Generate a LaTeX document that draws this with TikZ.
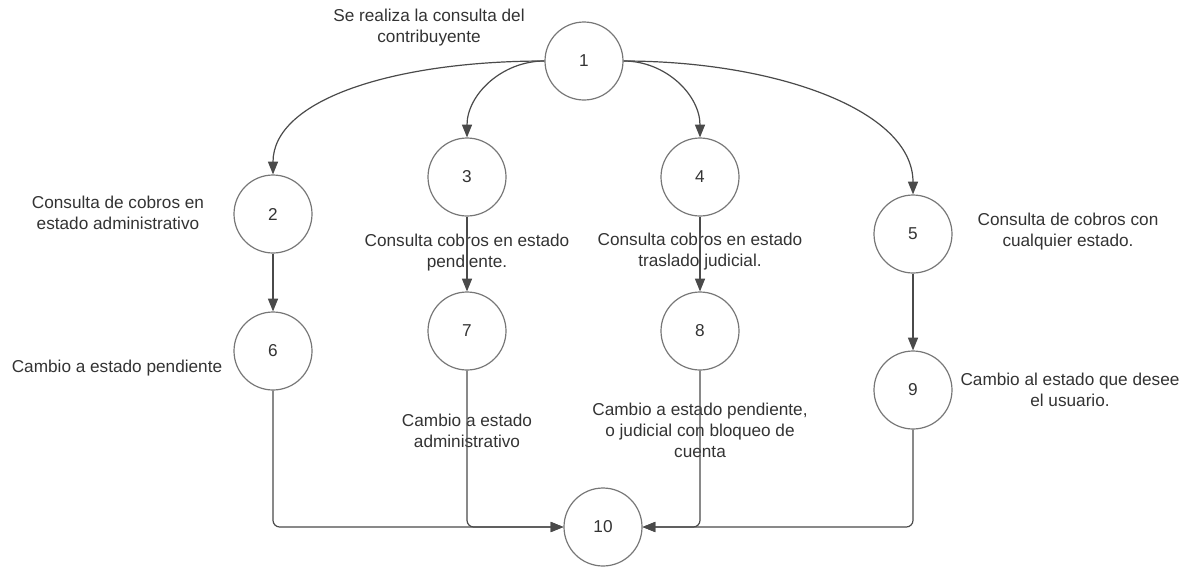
\documentclass[tikz,border=0pt]{standalone}
\usepackage{fontspec}
\setmainfont{Liberation Sans}
\usepackage{tikz}
\usetikzlibrary{arrows.meta}
\usepackage{xcolor}
\definecolor{linea}{HTML}{4A4A4A}
\definecolor{borde}{HTML}{777777}
\definecolor{texto}{HTML}{333333}

\begin{document}
\begin{tikzpicture}[x=0.75pt, y=-0.75pt, >={Triangle[length=9.5pt, width=7.5pt]},
    every node/.style={font=\fontsize{12.9}{15.8}\selectfont},
    estado/.style={circle, draw=borde, line width=0.9pt, minimum size=58.5pt, inner sep=0pt, text=texto},
    nota/.style={align=center, text=texto},
    flujo/.style={->, draw=linea, line width=0.9pt}]
    \useasboundingbox (0,0) rectangle (1185,569);

    % Estados
    \node[estado] (n1) at (584,61) {1};
    \node[estado] (n2) at (273,214) {2};
    \node[estado] (n3) at (467,177) {3};
    \node[estado] (n4) at (700,177) {4};
    \node[estado] (n5) at (913,234) {5};
    \node[estado] (n6) at (273,351) {6};
    \node[estado] (n7) at (467,331) {7};
    \node[estado] (n8) at (700,331) {8};
    \node[estado] (n9) at (913,390) {9};
    \node[estado] (n10) at (603,527) {10};

    % Descripciones
    \node[nota] (t1) at (429,28) {Se realiza la consulta del\\contribuyente};
    \node[nota] (t2) at (118,213) {Consulta de cobros en\\estado administrativo};
    \node[nota] (t3) at (467,253) {Consulta cobros en estado\\pendiente.};
    \node[nota] (t4) at (700,252) {Consulta cobros en estado\\traslado judicial.};
    \node[nota] (t5) at (1068,232) {Consulta de cobros con\\cualquier estado.};
    \node[nota] (t6) at (117,368) {Cambio a estado pendiente};
    \node[nota] (t7) at (467,431) {Cambio a estado\\administrativo};
    \node[nota] (t8) at (700,430) {Cambio a estado pendiente,\\o judicial con bloqueo de\\cuenta};
    \node[nota] (t9) at (1070,390) {Cambio al estado que desee\\el usuario.};

    % Desde la consulta (1)
    \draw[flujo] (n1.west) .. controls +(-150,0) and +(0,-75) .. (n2.north);
    \draw[flujo] (n1.west) to[out=180, in=90] (n3.north);
    \draw[flujo] (n1.east) to[out=0, in=90] (n4.north);
    \draw[flujo] (n1.east) .. controls +(150,0) and +(0,-85) .. (n5.north);

    % Cambios de estado
    \draw[flujo] (n2.south) -- (n6.north);
    \draw[flujo] (n3.south) -- (n7.north);
    \draw[flujo] (n4.south) -- (n8.north);
    \draw[flujo] (n5.south) -- (n9.north);

    % Hacia el final (10)
    \draw[flujo, rounded corners=5pt] (n6.south) |- (n10.west);
    \draw[flujo, rounded corners=5pt] (n7.south) |- (n10.west);
    \draw[flujo, rounded corners=5pt] (n8.south) |- (n10.east);
    \draw[flujo, rounded corners=5pt] (n9.south) |- (n10.east);
\end{tikzpicture}
\end{document}
